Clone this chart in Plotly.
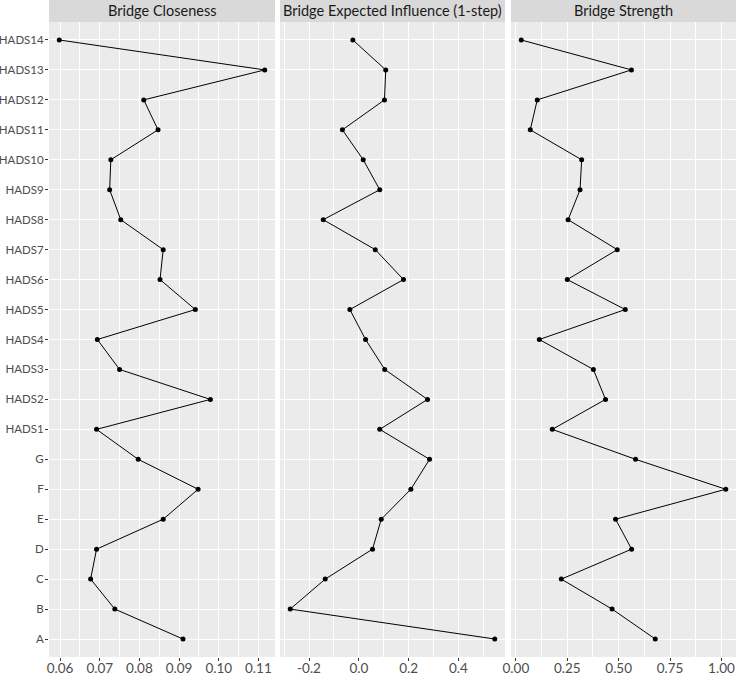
import plotly.graph_objects as go

nodes = ["A", "B", "C", "D", "E", "F", "G",
         "HADS1", "HADS2", "HADS3", "HADS4", "HADS5", "HADS6", "HADS7",
         "HADS8", "HADS9", "HADS10", "HADS11", "HADS12", "HADS13", "HADS14"]

closeness = [0.0910, 0.0738, 0.0677, 0.0692, 0.0860, 0.0948, 0.0797,
             0.0692, 0.0979, 0.0750, 0.0694, 0.0941, 0.0852, 0.0860,
             0.0753, 0.0725, 0.0728, 0.0847, 0.0811, 0.1116, 0.0598]

expected_influence = [0.546, -0.2755, -0.135, 0.055, 0.090, 0.209, 0.284,
                      0.084, 0.276, 0.104, 0.027, -0.036, 0.1795, 0.066,
                      -0.143, 0.084, 0.0177, -0.066, 0.103, 0.108, -0.024]

strength = [0.678, 0.468, 0.221, 0.563, 0.485, 1.021, 0.582,
            0.177, 0.436, 0.377, 0.114, 0.532, 0.250, 0.493,
            0.254, 0.312, 0.320, 0.070, 0.104, 0.562, 0.026]

panel_titles = ["Bridge Closeness", "Bridge Expected Influence (1-step)", "Bridge Strength"]
series = [closeness, expected_influence, strength]
x_ticks = [[0.06, 0.07, 0.08, 0.09, 0.10, 0.11],
           [-0.2, 0.0, 0.2, 0.4],
           [0.00, 0.25, 0.50, 0.75, 1.00]]
x_ticktext = [["0.06", "0.07", "0.08", "0.09", "0.10", "0.11"],
              ["-0.2", "0.0", "0.2", "0.4"],
              ["0.00", "0.25", "0.50", "0.75", "1.00"]]

W, H = 738, 678
ml, mr, mt, mb = 49, 2, 22, 21
pw = W - ml - mr
domains = [[0, 226 / pw], [231 / pw, 456 / pw], [462 / pw, 1.0]]

FONT = "Lato"
fig = go.Figure()
layout = dict(
    width=W, height=H,
    margin=dict(l=ml, r=mr, t=mt, b=mb, pad=0),
    paper_bgcolor="white", plot_bgcolor="#EBEBEB",
    showlegend=False,
    font=dict(family=FONT, color="#4D4D4D", size=13),
)

shapes = []
annotations = []
for i, (vals, title) in enumerate(zip(series, panel_titles)):
    ax = "" if i == 0 else str(i + 1)
    fig.add_trace(go.Scatter(
        x=vals, y=nodes, mode="lines+markers",
        line=dict(color="black", width=1),
        marker=dict(color="black", size=5),
        xaxis="x" + ax, yaxis="y" + ax,
        hoverinfo="x+y",
    ))
    lo, hi = min(vals), max(vals)
    pad = 0.05 * (hi - lo)
    step = x_ticks[i][1] - x_ticks[i][0]
    layout["xaxis" + ax] = dict(
        domain=domains[i], anchor="y" + ax,
        range=[lo - pad, hi + pad],
        tickvals=x_ticks[i], ticktext=x_ticktext[i],
        showgrid=True, gridcolor="white", gridwidth=1.1,
        zeroline=False, showline=False,
        ticks="outside", ticklen=3, tickcolor="#333333", tickwidth=1,
        ticklabelstandoff=-4,
        tickfont=dict(family=FONT, size=13.5, color="#4D4D4D"),
        minor=dict(showgrid=True, gridcolor="white", gridwidth=0.5,
                   tick0=x_ticks[i][0] - step / 2, dtick=step / 2, ticks=""),
        automargin=False,
        fixedrange=True,
    )
    ydict = dict(
        domain=[0, 1], anchor="x" + ax,
        type="category", categoryorder="array", categoryarray=nodes,
        range=[-0.6, len(nodes) - 0.4],
        showgrid=True, gridcolor="white", gridwidth=1.1,
        zeroline=False, showline=False,
        automargin=False,
        fixedrange=True,
    )
    if i == 0:
        ydict.update(ticks="outside", ticklen=3, tickcolor="#333333", tickwidth=1,
                     ticklabelstandoff=-1,
                     tickfont=dict(family=FONT, size=11.5, color="#4D4D4D"),
                     showticklabels=True)
    else:
        ydict.update(showticklabels=False, ticks="", matches="y")
    layout["yaxis" + ax] = ydict

    shapes.append(dict(type="rect", xref="paper", yref="paper",
                       x0=domains[i][0], x1=domains[i][1],
                       y0=1.0, y1=1.0 + mt / (H - mt - mb),
                       fillcolor="#D9D9D9", line=dict(width=0), layer="below"))
    annotations.append(dict(text=title, xref="paper", yref="paper",
                            x=(domains[i][0] + domains[i][1]) / 2,
                            y=1.0 + (mt / 2) / (H - mt - mb),
                            xanchor="center", yanchor="middle", showarrow=False,
                            font=dict(family=FONT, size=14.5, color="#1A1A1A")))

layout["shapes"] = shapes
layout["annotations"] = annotations
fig.update_layout(**layout)
fig.write_html("out.html")
